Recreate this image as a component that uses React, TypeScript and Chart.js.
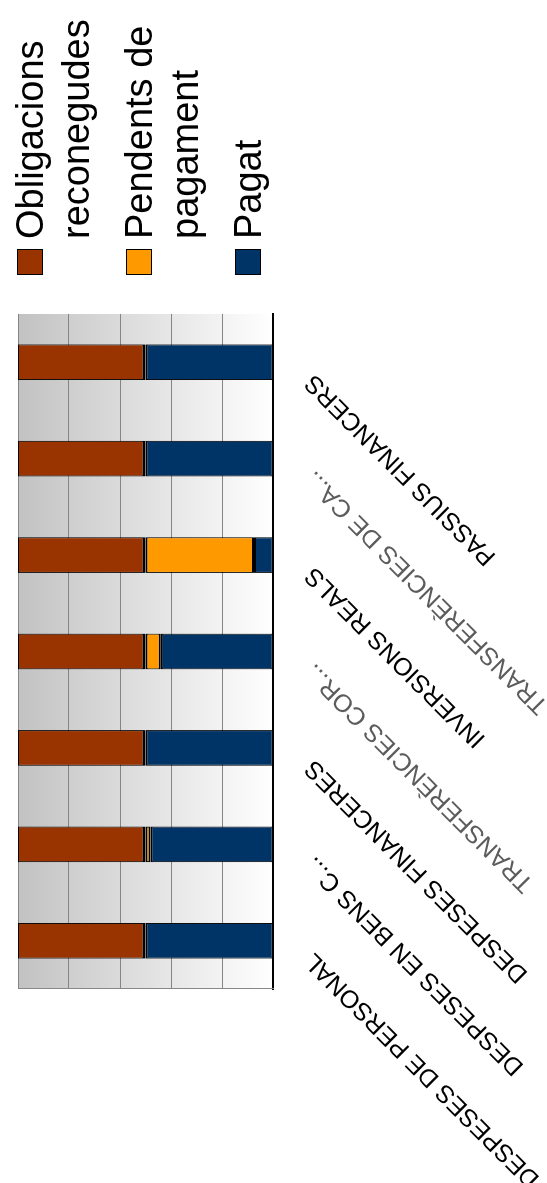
import React, { useEffect, useRef } from 'react';
import { Chart, registerables } from 'chart.js';

Chart.register(...registerables);

// Categories (original left-to-right order of the column chart)
const categories = [
  'DESPESES DE PERSONAL',
  'DESPESES EN BENS C...',
  'DESPESES FINANCERES',
  'TRANSFERÈNCIES COR...',
  'INVERSIONS REALS',
  'TRANSFERÈNCIES DE CA...',
  'PASSIUS FINANCERS',
];

// 100% stacked shares (percent of each column)
const obligacions = [50, 50, 50, 50, 50, 50, 50];
const pendents = [0, 2, 0, 6, 42.5, 0, 0];
const pagat = [50, 48, 50, 44, 7.5, 50, 50];

const seriesLabels = ['Obligacions reconegudes', 'Pendents de pagament', 'Pagat'];
const seriesColors = ['#993300', '#FF9900', '#003366'];
const valueTicks = [0, 20, 40, 60, 80, 100];
const labelColors = ['#000000', '#000000', '#000000', '#5c5c5c', '#000000', '#5c5c5c', '#000000'];

const W = 1183;
const H = 547;

const backgroundPlugin = {
  id: 'bgGradient',
  beforeDraw(chart: any) {
    const { ctx, chartArea } = chart;
    ctx.save();
    ctx.fillStyle = '#ffffff';
    ctx.fillRect(0, 0, chart.width, chart.height);
    const g = ctx.createLinearGradient(0, chartArea.top, 0, chartArea.bottom);
    g.addColorStop(0, '#c2c2c2');
    g.addColorStop(1, '#ffffff');
    ctx.fillStyle = g;
    ctx.fillRect(chartArea.left, chartArea.top, chartArea.right - chartArea.left, chartArea.bottom - chartArea.top);
    ctx.restore();
  },
};

const legendPlugin = {
  id: 'sideLegend',
  afterDraw(chart: any) {
    const ctx = chart.ctx;
    ctx.save();
    ctx.font = '38px "Liberation Sans", Arial, sans-serif';
    ctx.textBaseline = 'alphabetic';
    ctx.textAlign = 'left';
    const boxX = 908;
    const textX = 944;
    const maxW = W - textX - 10;
    const lineH = 46;
    let base = 43;
    seriesLabels.forEach((label, i) => {
      const words = label.split(' ');
      const lines: string[] = [];
      let cur = '';
      words.forEach((w) => {
        const t = cur ? cur + ' ' + w : w;
        if (cur && ctx.measureText(t).width > maxW) {
          lines.push(cur);
          cur = w;
        } else {
          cur = t;
        }
      });
      if (cur) lines.push(cur);
      ctx.fillStyle = seriesColors[i];
      ctx.fillRect(boxX, base - 26, 26, 26);
      ctx.strokeStyle = '#000000';
      ctx.lineWidth = 1;
      ctx.strokeRect(boxX + 0.5, base - 25.5, 25, 25);
      ctx.fillStyle = '#000000';
      lines.forEach((ln, j) => ctx.fillText(ln, textX, base + j * lineH));
      base += lines.length * lineH + 17;
    });
    ctx.restore();
  },
};

export default function App() {
  const ref = useRef<HTMLCanvasElement | null>(null);

  useEffect(() => {
    if (!ref.current) return;
    const chart = new Chart(ref.current, {
      type: 'bar',
      data: {
        labels: categories,
        datasets: [
          {
            label: seriesLabels[2],
            data: pagat,
            backgroundColor: seriesColors[2],
            borderColor: '#000000',
            borderWidth: { top: 2, bottom: 1, left: 1, right: 1 },
            borderSkipped: false,
          },
          {
            label: seriesLabels[1],
            data: pendents,
            backgroundColor: seriesColors[1],
            borderColor: '#000000',
            borderWidth: { top: 2, bottom: 2, left: 1, right: 1 },
            borderSkipped: false,
          },
          {
            label: seriesLabels[0],
            data: obligacions,
            backgroundColor: seriesColors[0],
            borderColor: '#000000',
            borderWidth: { top: 1, bottom: 3, left: 1, right: 1 },
            borderSkipped: false,
          },
        ],
      },
      options: {
        responsive: false,
        devicePixelRatio: 1,
        animation: false,
        layout: { padding: { top: 18, right: 314, bottom: 0, left: 194 } },
        datasets: { bar: { categoryPercentage: 1, barPercentage: 0.37, inflateAmount: 0 } },
        plugins: { legend: { display: false }, tooltip: { enabled: false } },
        scales: {
          x: {
            stacked: true,
            grid: {
              display: true,
              offset: true,
              drawTicks: false,
              color: (c: any) => (c.index === categories.length || c.index === 0 ? '#888888' : 'rgba(0,0,0,0)'),
            },
            border: { display: true, color: '#000000', width: 2 },
            ticks: {
              autoSkip: false,
              minRotation: 45,
              maxRotation: 45,
              padding: 26,
              labelOffset: -16,
              color: (c: any) => labelColors[c.index] || '#000000',
              font: { family: '"Liberation Sans", Arial, sans-serif', size: 25 },
            },
            afterFit: (s: any) => {
              s.height = 274;
              s.paddingLeft = 0;
              s.paddingRight = 0;
            },
          },
          y: {
            stacked: true,
            min: valueTicks[0],
            max: valueTicks[valueTicks.length - 1],
            afterBuildTicks: (s: any) => {
              s.ticks = valueTicks.map((v) => ({ value: v }));
            },
            ticks: { display: false },
            grid: { color: '#858585', drawTicks: false },
            border: { display: true, color: '#888888', width: 1 },
            afterFit: (s: any) => {
              s.width = 0;
            },
          },
        },
      },
      plugins: [backgroundPlugin, legendPlugin],
    });
    return () => chart.destroy();
  }, []);

  return (
    <div
      style={{
        position: 'fixed',
        left: 0,
        top: 0,
        width: W,
        height: H,
        transformOrigin: '0 0',
        transform: `translateY(${W}px) rotate(-90deg)`,
        background: '#ffffff',
      }}
    >
      <canvas ref={ref} width={W} height={H} style={{ display: 'block', width: W, height: H }} />
    </div>
  );
}
